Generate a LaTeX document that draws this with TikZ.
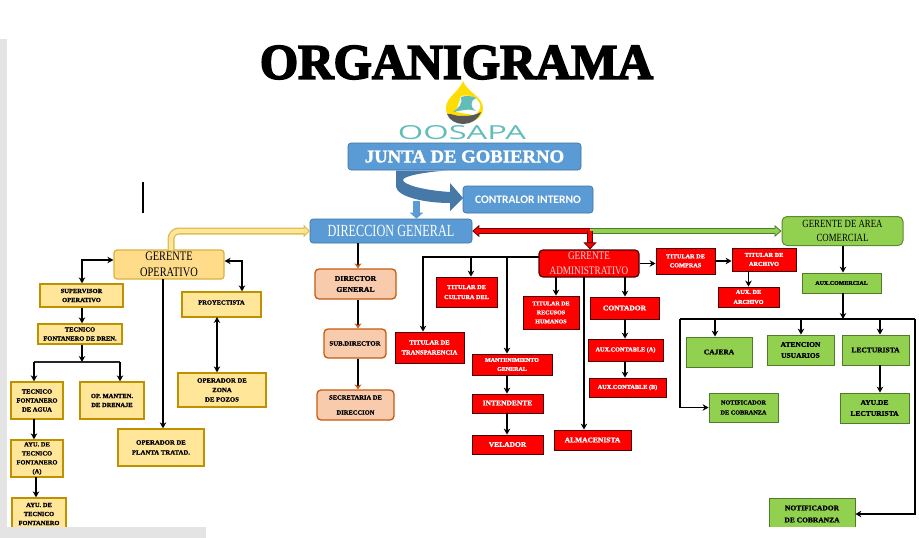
\documentclass[tikz,border=0pt]{standalone}
\usepackage{fontspec}
\usepackage{amsmath}
\usetikzlibrary{arrows.meta,positioning,calc}
\setmainfont{Liberation Serif}
\newfontfamily\sbf[FakeBold=1.6,FakeStretch=1.04,Scale=1.2]{Liberation Serif Bold}
\newfontfamily\titf[FakeBold=3.5]{Liberation Serif Bold}
\newfontfamily\cbf{Carlito}
\newfontfamily\tealf{Open Sans}
\newcommand{\narrow}[2][.8]{\scalebox{#1}[1]{#2}}
\newcommand{\upby}[2]{\raisebox{#1}{\begin{tabular}{@{}c@{}}#2\end{tabular}}}
\definecolor{ybox}{HTML}{FFE699}
\definecolor{yedge}{HTML}{BF9000}
\definecolor{oboxf}{HTML}{F8CBAD}
\definecolor{oedge}{HTML}{C55A11}
\definecolor{gbox}{HTML}{92D050}
\definecolor{gedge}{HTML}{4F7A28}
\definecolor{bbox}{HTML}{5B9BD5}
\definecolor{bedge}{HTML}{41719C}
\definecolor{stripgray}{HTML}{E4E4E4}
\definecolor{logoteal}{HTML}{62BDB8}

\begin{document}
\begin{tikzpicture}[x=1pt,y=-1pt,
  sz/.style 2 args={minimum width=#1,minimum height=#2,inner sep=0pt,align=center},
  fs/.style 2 args={font=\sbf\fontsize{#1}{#2}\selectfont},
  yel/.style={draw=yedge,fill=ybox,line width=1.3pt,text=black},
  ora/.style={draw=oedge,fill=oboxf,line width=1.3pt,rounded corners=4pt,text=black},
  redb/.style={draw=black!70!red,fill=red,line width=.8pt,text=white},
  grn/.style={draw=gedge,fill=gbox,line width=.8pt,text=black},
  blu/.style={draw=bedge,fill=bbox,line width=.6pt,rounded corners=3pt,text=white},
  ln/.style={draw=black,line width=1.8pt,-{Stealth[length=6pt,width=6.5pt]}},
  lnn/.style={draw=black,line width=1.4pt},
  lnb/.style={draw=black,line width=1.8pt,{Stealth[length=6pt,width=6.5pt]}-{Stealth[length=6pt,width=6.5pt]}},
  dirln/.style={draw=black,line width=2.6pt,-{Stealth[length=5pt,width=7pt,color=oedge]}}]
  \useasboundingbox (0,0) rectangle (919,538);

  % title and logo
  \node[inner sep=0pt] (title) at (456.5,62.5)
    {\resizebox{393pt}{33pt}{\titf ORGANIGRAMA}};
  \fill[yellow!80!orange] (463,81) .. controls (459,92) and (446,97) .. (446,108)
    .. controls (446,118) and (455,123) .. (464,123)
    .. controls (473,123) and (483,118) .. (483,108)
    .. controls (483,97) and (467,92) .. (463,81) -- cycle;
  \fill[white] (461,96) .. controls (470,94) and (478,98) .. (480,104)
    .. controls (481,109) and (478,113) .. (474,115) -- (456,112) -- cycle;
  \fill[logoteal] (453,112) .. controls (459,108) and (463,103) .. (461,97)
    .. controls (467,95) and (472,96) .. (476,98)
    .. controls (470,100) and (470,108) .. (476,111)
    .. controls (468,108) and (460,111) .. (453,112) -- cycle;
  \fill[black!65] (447,114) .. controls (452,113) and (456,117) .. (463,116)
    .. controls (470,116) and (476,115) .. (481,112)
    .. controls (478,120) and (470,124) .. (463,124)
    .. controls (456,124) and (449,120) .. (447,114) -- cycle;
  \node[inner sep=0pt,text=logoteal] (oosapa) at (462,133)
    {\resizebox{128pt}{14pt}{\tealf OOSAPA}};

  % top boxes
  \node[blu,sz={233}{27},fs={15}{16}] (junta) at (464.5,156.5) {JUNTA DE GOBIERNO};
  \node[blu,sz={130}{27},font=\cbf\bfseries\fontsize{11.5}{13}\selectfont] (contr) at (528,199.5) {CONTRALOR INTERNO};
  \node[blu,sz={162}{24},font=\fontsize{17}{19}\selectfont] (dirg) at (391,231) {\narrow[.72]{DIRECCION GENERAL}};

  % gerentes
  \node[draw=yedge!60!ybox,fill=ybox!90!orange,line width=1.2pt,rounded corners=3pt,sz={110}{29},font=\fontsize{13}{16}\selectfont] (gop) at (169,264.5) {\narrow{GERENTE}\\\narrow{OPERATIVO}};
  \node[draw=black!70!red,fill=red,line width=1.2pt,rounded corners=4pt,text=white!85!red,sz={100}{27},font=\fontsize{11.5}{14.5}\selectfont] (gadm) at (589,263.5) {\narrow{GERENTE}\\\narrow{ADMINISTRATIVO}};
  \node[draw=gedge!80!gbox,fill=gbox,line width=1pt,rounded corners=5pt,sz={121}{29},font=\fontsize{11}{14.5}\selectfont] (gcom) at (842.5,231) {\narrow{GERENTE DE AREA}\\\narrow{COMERCIAL}};

  % area operativa
  \node[yel,sz={83}{23},fs={5.2}{9}] (sup) at (81.5,295.5) {SUPERVISOR\\OPERATIVO};
  \node[yel,sz={84}{20},fs={5.2}{9}] (tecd) at (80,334) {TECNICO\\FONTANERO DE DREN.};
  \node[yel,sz={52}{37},fs={5.2}{9}] (teca) at (37,400.5) {TECNICO\\FONTANERO\\DE AGUA};
  \node[yel,sz={64}{37},fs={5.2}{9}] (opm) at (112,400.5) {OP. MANTEN.\\DE DRENAJE};
  \node[yel,sz={52}{37},fs={5.2}{9}] (ayua) at (37,458.5) {AYU. DE\\TECNICO\\FONTANERO\\(A)};
  \node[yel,sz={54}{32},fs={5.2}{9}] (ayub) at (39,514) {AYU. DE\\TECNICO\\FONTANERO};
  \node[yel,sz={86}{37},fs={5.4}{10}] (oppl) at (161,447.5) {OPERADOR DE\\PLANTA TRATAD.};
  \node[yel,sz={79}{25},fs={5.2}{9}] (proy) at (221.5,304.5) {\raisebox{4pt}{PROYECTISTA}};
  \node[yel,sz={88}{34},fs={5.4}{9.5}] (opz) at (222,390) {OPERADOR DE\\ZONA\\DE POZOS};

  % direccion
  \node[ora,sz={81}{30},fs={6.2}{11}] (dgen) at (355.5,284) {DIRECTOR\\GENERAL};
  \node[ora,sz={62}{29},fs={5.4}{9}] (sdir) at (355,343.5) {SUB.DIRECTOR};
  \node[ora,sz={77}{30},fs={5.2}{15}] (secr) at (355.5,405) {SECRETARIA DE\\DIRECCION};

  % area administrativa
  \node[redb,sz={61}{30},fs={5}{10}] (tcul) at (466.5,292) {\upby{4pt}{TITULAR DE\\CULTURA DEL}};
  \node[redb,sz={69}{31},fs={5.2}{10}] (ttra) at (429.5,347.5) {TITULAR DE\\TRANSPARENCIA};
  \node[redb,sz={80}{21},fs={4.8}{9}] (mant) at (512,364.5) {MANTENIMIENTO\\GENERAL};
  \node[redb,sz={71}{19},fs={6}{8}] (inte) at (507.5,403.5) {\raisebox{1pt}{INTENDENTE}};
  \node[redb,sz={71}{19},fs={6}{8}] (vela) at (507.5,444.5) {VELADOR};
  \node[redb,sz={56}{33},fs={4.8}{9}] (recu) at (551,312.5) {TITULAR DE\\RECUSOS\\HUMANOS};
  \node[redb,sz={77}{20},fs={6}{8}] (alma) at (592.5,440) {ALMACENISTA};
  \node[redb,sz={69}{22},fs={6}{8}] (cont) at (624.5,308) {CONTADOR};
  \node[redb,sz={75}{22},fs={5}{8}] (auxa) at (625.5,350) {AUX.CONTABLE (A)};
  \node[redb,sz={77}{19},fs={5}{8}] (auxb) at (627.5,387.5) {AUX.CONTABLE (B)};
  \node[redb,sz={59}{26},fs={5}{9}] (tcom) at (685.5,261) {\upby{3pt}{TITULAR DE\\COMPRAS}};
  \node[redb,sz={64}{23},fs={5}{9}] (tarc) at (764,259.5) {TITULAR DE\\ARCHIVO};
  \node[redb,sz={61}{20},fs={5}{10}] (aarc) at (748.5,297) {AUX. DE\\ARCHIVO};

  % area comercial
  \node[grn,sz={79}{20},fs={4.8}{8}] (acom) at (841.5,283) {AUX.COMERCIAL};
  \node[grn,sz={66}{30},fs={6}{9}] (caja) at (719,352) {CAJERA};
  \node[grn,sz={67}{30},fs={6}{11}] (aten) at (800.5,350) {ATENCION\\USUARIOS};
  \node[grn,sz={67}{30},fs={6}{9}] (lect) at (875.5,350) {LECTURISTA};
  \node[grn,sz={69}{29},fs={5}{10}] (not1) at (743.5,407.5) {NOTIFICADOR\\DE COBRANZA};
  \node[grn,sz={69}{30},fs={6}{11}] (ayul) at (874.5,408) {AYU.DE\\LECTURISTA};
  \node[grn,sz={86}{32},fs={6}{12}] (not2) at (812,514) {NOTIFICADOR\\DE COBRANZA};

  % block arrows from the top
  \fill[bedge!80!bbox] (396,170.5) -- (396,187) .. controls (398,197) and (425,203) .. (450,203)
    -- (450,211) -- (463,198) -- (450,183) -- (450,192)
    .. controls (420,190) and (403,184) .. (403,180)
    .. controls (403,176) and (425,172) .. (447,170.5) -- cycle;
  \coordinate (jdown) at (416.5,201);
  \draw[bbox,line width=7pt,-{Triangle[length=6pt,width=13pt]}] (jdown) -- (jdown |- dirg.north);

  \coordinate (gopup) at (171,250);
  \coordinate (redm) at (590,231);
  \draw[yedge!50!ybox,line width=7pt,rounded corners=8pt,-{Triangle[length=6pt,width=12.5pt,fill=ybox,line width=1pt]}] (gopup) |- (dirg.west);
  \draw[ybox,line width=4.4pt,rounded corners=8pt] (gopup) |- ([xshift=-5]dirg.west);
  \draw[gedge,line width=6pt,-{Triangle[length=7pt,width=12pt,fill=gbox,line width=.8pt]}] (redm) -- (gcom.west);
  \draw[gbox,line width=3.8pt] (redm) -- ([xshift=-6]gcom.west);
  \draw[black!60!red,line width=6.5pt,-{Triangle[length=7pt,width=12pt,fill=red,line width=.8pt]}] (redm) -- (dirg.east);
  \draw[red,line width=4.6pt] (redm) -- ([xshift=6]dirg.east);
  \draw[black!60!red,line width=6.5pt,-{Triangle[length=7pt,width=13pt,fill=red,line width=.8pt]}] (redm) -- (redm |- gadm.north);
  \draw[red,line width=4.6pt] (redm) -- ($(redm |- gadm.north)+(0,-7)$);

  % connectors operativa
  \coordinate (gopl) at (82,260);
  \coordinate (gopr) at (242,261);
  \coordinate (gopd) at (163,279);
  \coordinate (opbus) at (82,362);
  \coordinate (aydn) at (36,477);
  \coordinate (agdn) at (34,419);
  \coordinate (opmd) at (120,362);
  \coordinate (proyd) at (217,317);
  \draw[lnb] (gop.west |- gopl) -| (sup.north -| gopl);
  \draw[lnb] (gop.east |- gopr) -| (proy.north -| gopr);
  \draw[ln] (gopl |- sup.south) -- (gopl |- tecd.north);
  \draw[ln] (gopl |- tecd.south) -- (opbus);
  \draw[lnn,black!85] (agdn |- opbus) -- (opmd);
  \draw[ln] (agdn |- opbus) -- (agdn |- teca.north);
  \draw[ln] (opmd) -- (opmd |- opm.north);
  \draw[ln] (agdn) -- (agdn |- ayua.north);
  \draw[ln] (aydn) -- (aydn |- ayub.north);
  \draw[ln] (gopd) -- (gopd |- oppl.north);
  \draw[lnb] (proyd) -- (proyd |- opz.north);

  % connectors direccion
  \coordinate (dirx) at (358,243);
  \draw[dirln] (dirx) -- (dirx |- dgen.north);
  \draw[dirln] (dirx |- dgen.south) -- (dirx |- sdir.north);
  \draw[dirln] (dirx |- sdir.south) -- (dirx |- secr.north);

  % connectors administrativa
  \coordinate (adml) at (539,257);
  \coordinate (admt) at (423,257);
  \coordinate (admc) at (471,257);
  \coordinate (admm) at (507,257);
  \coordinate (admr) at (556,277);
  \coordinate (adma) at (584,277);
  \coordinate (admk) at (625,277);
  \draw[ln] (adml) -| (ttra.north -| admt);
  \draw[ln] (admc) -- (admc |- tcul.north);
  \draw[ln] (admm) -- (admm |- mant.north);
  \draw[ln] (admm |- mant.south) -- (admm |- inte.north);
  \draw[ln] (admm |- inte.south) -- (admm |- vela.north);
  \draw[ln] (admr) -- (admr |- recu.north);
  \draw[ln] (adma) -- (adma |- alma.north);
  \draw[ln] (admk) -- (admk |- cont.north);
  \draw[ln] (admk |- cont.south) -- (admk |- auxa.north);
  \draw[ln] (admk |- auxa.south) -- (admk |- auxb.north);
  \draw[ln] (gadm.east) -- (gadm.east -| tcom.west);
  \draw[ln] (tcom.east) -- (tcom.east -| tarc.west);
  \draw[ln] (tarc.south -| aarc.north) -- (aarc.north);

  % connectors comercial
  \coordinate (comx) at (843,319);
  \coordinate (busl) at (680,319);
  \coordinate (busr) at (915,319);
  \coordinate (cajx) at (715,319);
  \coordinate (atex) at (801,319);
  \coordinate (lecx) at (880,319);
  \draw[ln] (gcom.south -| comx) -- (comx |- acom.north);
  \draw[ln] (comx |- acom.south) -- (comx);
  \draw[lnn] (busl) -- (busr);
  \draw[lnn,-{Stealth[length=6pt,width=6.5pt]}] (busl) |- (not1.west);
  \draw[lnn,-{Stealth[length=6pt,width=6.5pt]}] (busr) |- (not2.east);
  \draw[ln] (cajx) -- (cajx |- caja.north);
  \draw[ln] (atex) -- (atex |- aten.north);
  \draw[ln] (lecx) -- (lecx |- lect.north);
  \draw[ln] (lecx |- lect.south) -- (lecx |- ayul.north);

  % stray mark and the page strips
  \coordinate (marka) at (143,182);
  \coordinate (markb) at (143,213);
  \draw[black,line width=1.4pt] (marka) -- (markb);
  \fill[stripgray] (0,39) rectangle (7,538);
  \fill[white] (206,527) rectangle (919,538);
  \fill[stripgray] (0,527) rectangle (206,538);
\end{tikzpicture}
\end{document}
